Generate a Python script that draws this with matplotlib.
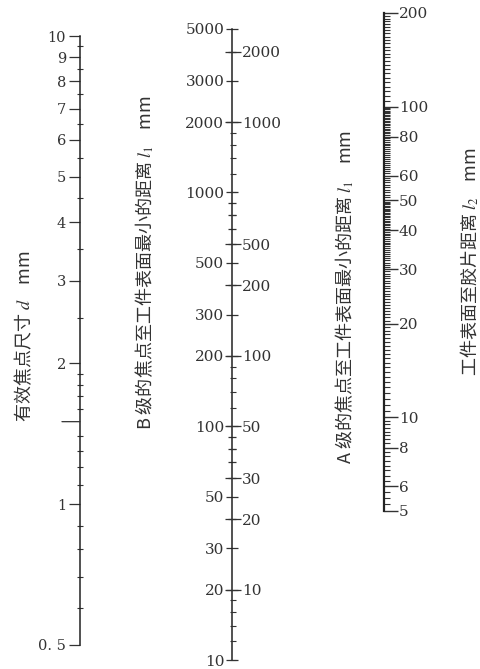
import numpy as np
import matplotlib.pyplot as plt
from matplotlib.ticker import FixedLocator, FixedFormatter, NullFormatter

plt.rcParams['mathtext.fontset'] = 'stix'

W, H = 480, 669
INK = '#333333'
NUM_FONT = 'DejaVu Serif'
CJK = ['Noto Sans CJK SC', 'DejaVu Sans']

# 有效焦点尺寸 d
d_ticks = [0.5, 1, 2, 3, 4, 5, 6, 7, 8, 9, 10]
d_labels = ['0. 5', '1', '2', '3', '4', '5', '6', '7', '8', '9', '10']
d_minor = [0.6, 0.7, 0.8, 0.9, 1.1, 1.2, 1.3, 1.4, 1.6, 1.7, 1.8, 1.9,
           2.5, 3.5, 4.5, 5.5, 6.5, 7.5, 8.5, 9.5]
d_long = [1.5]

# B 级：左 l1，右 l2
b_left_ticks = [10, 20, 30, 50, 100, 200, 300, 500, 1000, 2000, 3000, 5000]
b_left_labels = ['10', '20', '30', '50', '100', '200', '300', '500',
                 '1000', '2000', '3000', '5000']
b_right_ticks = [10, 20, 30, 50, 100, 200, 300, 1000, 2000]
b_right_labels = ['10', '20', '30', '50', '100', '200', '500', '1000', '2000']

# A 级 / 工件表面至胶片距离 l2
a_ticks = [5, 6, 8, 10, 20, 30, 40, 50, 60, 80, 100, 200]
a_labels = ['5', '6', '8', '10', '20', '30', '40', '50', '60', '80', '100', '200']


def axes_at(x, y_top, y_bot):
    ax = fig.add_axes([x / W, 1 - y_bot / H, 0.5 / W, (y_bot - y_top) / H])
    ax.set_facecolor('none')
    ax.set_yscale('log')
    ax.set_xticks([])
    for s in ax.spines.values():
        s.set_visible(False)
    return ax


def style_labels(ax):
    for t in ax.get_yticklabels():
        t.set_fontfamily(NUM_FONT)


fig = plt.figure(figsize=(W / 100, H / 100), dpi=100)

# ---- 第一根：d ----
ax1 = axes_at(80, 36, 645)
ax1.set_ylim(0.5, 10)
ax1.spines['left'].set_visible(True)
ax1.spines['left'].set_color('#222222')
ax1.spines['left'].set_linewidth(1.1)
ax1.yaxis.set_major_locator(FixedLocator(d_ticks))
ax1.yaxis.set_major_formatter(FixedFormatter(d_labels))
ax1.yaxis.set_minor_locator(FixedLocator(d_minor))
ax1.yaxis.set_minor_formatter(NullFormatter())
ax1.tick_params(axis='y', which='major', direction='out', length=8, width=0.9,
                pad=2, labelsize=10.5, colors=INK)
ax1.tick_params(axis='y', which='minor', direction='inout', length=5, width=0.8,
                color=INK)
for v in d_long:
    ax1.annotate('', xy=(0, v), xycoords=('axes fraction', 'data'),
                 xytext=(-13, 0), textcoords='offset points',
                 arrowprops=dict(arrowstyle='-', lw=0.9, color=INK,
                                 shrinkA=0, shrinkB=0))
style_labels(ax1)

# ---- 第二根：B 级 ----
ax2 = axes_at(232, 29, 660)
ax2.set_ylim(10, 5000)
ax2.spines['left'].set_visible(True)
ax2.spines['left'].set_color('#222222')
ax2.spines['left'].set_linewidth(1.1)
ax2.yaxis.set_major_locator(FixedLocator(b_left_ticks))
ax2.yaxis.set_major_formatter(FixedFormatter(b_left_labels))
ax2.yaxis.set_minor_formatter(NullFormatter())
ax2.tick_params(axis='y', which='major', direction='inout', length=9, width=0.9,
                pad=1, labelsize=11, colors=INK)
ax2.tick_params(axis='y', which='minor', direction='inout', length=6, width=0.9,
                color=INK)
style_labels(ax2)

ax2r = ax2.twinx()
ax2r.set_yscale('log')
ax2r.set_ylim(5, 2500)
for s in ax2r.spines.values():
    s.set_visible(False)
ax2r.yaxis.set_major_locator(FixedLocator(b_right_ticks))
ax2r.yaxis.set_major_formatter(FixedFormatter(b_right_labels))
ax2r.yaxis.set_minor_formatter(NullFormatter())
ax2r.tick_params(axis='y', which='major', direction='inout', length=12, width=0.9,
                 pad=1, labelsize=11, colors=INK)
ax2r.tick_params(axis='y', which='minor', direction='inout', length=5, width=0.8,
                 color=INK)
style_labels(ax2r)

# ---- 第三根：A 级 / l2 ----
ax3 = axes_at(383, 13, 511)
ax3.set_ylim(5, 200)
ax3.spines['right'].set_visible(True)
ax3.spines['right'].set_color('#222222')
ax3.spines['right'].set_linewidth(1.6)
ax3.yaxis.tick_right()
ax3.yaxis.set_major_locator(FixedLocator(a_ticks))
ax3.yaxis.set_major_formatter(FixedFormatter(a_labels))
a_minor = np.concatenate([np.arange(5, 10, 0.25), np.arange(10, 20, 0.5),
                          np.arange(20, 50, 0.5), np.arange(50, 100, 1),
                          np.arange(100, 200, 4)])
ax3.yaxis.set_minor_locator(FixedLocator(a_minor))
ax3.yaxis.set_minor_formatter(NullFormatter())
ax3.tick_params(axis='y', which='major', direction='out', length=10, width=1.0,
                pad=1, labelsize=11, colors=INK)
ax3.tick_params(axis='y', which='minor', direction='out', length=4, width=0.8,
                color=INK)
style_labels(ax3)

# ---- 标题 ----
fig.text(23 / W, 1 - 336 / H, '有效焦点尺寸 $d$    mm', rotation=90,
         ha='center', va='center', fontsize=13, color=INK, family=CJK)
fig.text(145 / W, 1 - 263 / H, 'B 级的焦点至工件表面最小的距离 $l_1$    mm',
         rotation=90, ha='center', va='center', fontsize=13, color=INK,
         family=CJK)
fig.text(345 / W, 1 - 297 / H, 'A 级的焦点至工件表面最小的距离 $l_1$    mm',
         rotation=90, ha='center', va='center', fontsize=13, color=INK,
         family=CJK)
fig.text(470 / W, 1 - 262 / H, '工件表面至胶片距离 $l_2$    mm', rotation=90,
         ha='center', va='center', fontsize=13, color=INK, family=CJK)

fig.savefig('out.png', dpi=100)
